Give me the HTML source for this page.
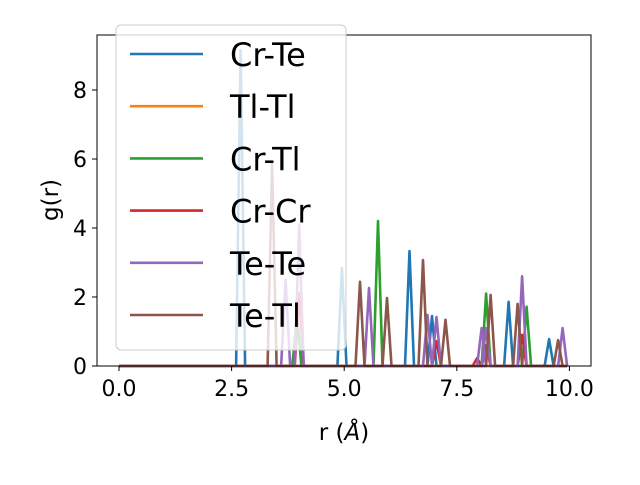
<!DOCTYPE html>
<html><head><meta charset="utf-8"><style>
html,body{margin:0;padding:0;background:#fff;}
svg text{font-family:"DejaVu Sans","Liberation Sans",sans-serif;}
</style></head><body>
<svg id="chart" width="640" height="480" xmlns="http://www.w3.org/2000/svg">
<rect width="640" height="480" fill="#fff"/>
<g id="series"></g>
<g id="axes"></g>
<g id="legend"></g>
</svg>
<script>
const seriesNames = ["Cr-Te","Tl-Tl","Cr-Tl","Cr-Cr","Te-Te","Te-Tl"];
const seriesColors = ["#1f77b4","#ff7f0e","#2ca02c","#d62728","#9467bd","#8c564b"];
const crTeR = [2.7, 4.95, 6.45, 6.95, 8.65, 9.55];
const crTeG = [9.15, 2.84, 3.33, 1.45, 1.86, 0.78];
const tlTlR = [];
const tlTlG = [];
const crTlR = [3.95, 5.75, 8.15, 9.05];
const crTlG = [1.5, 4.2, 2.1, 1.72];
const crCrR = [4.0, 7.05, 7.95, 8.15, 8.95];
const crCrG = [2.1, 0.72, 0.23, 0.6, 0.9];
const teTeR = [3.7, 4.0, 5.55, 6.85, 7.05, 8.05, 8.15, 8.95, 9.85];
const teTeG = [2.5, 4.1, 2.26, 1.48, 1.42, 1.1, 1.1, 2.6, 1.1];
const teTlR = [3.4, 5.35, 5.95, 6.75, 7.25, 8.25, 8.85, 9.75];
const teTlG = [5.85, 2.44, 1.97, 3.07, 1.34, 2.06, 1.8, 0.75];
const xTicks = [0, 2.5, 5, 7.5, 10];
const xTickLabels = ["0.0","2.5","5.0","7.5","10.0"];
const yTicks = [0, 2, 4, 6, 8];
const yTickLabels = ["0","2","4","6","8"];

const NS="http://www.w3.org/2000/svg";
const L=97,R=591,T=35,B=366;
const xS=r=>119+r*45.04;
const yS=g=>366-g*34.5;
function mk(tag,attrs,parent){const e=document.createElementNS(NS,tag);for(const k in attrs)e.setAttribute(k,attrs[k]);parent.appendChild(e);return e;}
const allR=[crTeR,tlTlR,crTlR,crCrR,teTeR,teTlR];
const allG=[crTeG,tlTlG,crTlG,crCrG,teTeG,teTlG];
const sg=document.getElementById('series');
for(let s=0;s<6;s++){
  const pts=[[0,0]];
  const idx=allR[s].map((r,i)=>i).sort((a,b)=>allR[s][a]-allR[s][b]);
  for(const i of idx){const r=allR[s][i],g=allG[s][i];pts.push([r-0.1,0],[r,g],[r+0.1,0]);}
  pts.push([9.95,0]);
  const p=mk('polyline',{points:pts.map(q=>xS(q[0]).toFixed(1)+','+yS(q[1]).toFixed(1)).join(' '),fill:'none',stroke:seriesColors[s],'stroke-width':2.6,'stroke-linejoin':'round'},sg);
  
  
}
const ax=document.getElementById('axes');
const fr=mk('rect',{x:L,y:T,width:R-L,height:B-T,fill:'none',stroke:'#000','stroke-width':1},ax);


xTicks.forEach((v,i)=>{
  mk('line',{x1:xS(v),x2:xS(v),y1:B,y2:B+5,stroke:'#000'},ax);
  const t=mk('text',{x:xS(v),y:B+30,'font-size':22,'text-anchor':'middle'},ax);
  t.textContent=xTickLabels[i];
  
  
});
yTicks.forEach((v,i)=>{
  mk('line',{x1:L-5,x2:L,y1:yS(v),y2:yS(v),stroke:'#000'},ax);
  const t=mk('text',{x:L-10,y:yS(v)+8,'font-size':22,'text-anchor':'end'},ax);
  t.textContent=yTickLabels[i];
  
  
});
const xl=mk('text',{x:344,y:440,'font-size':23,'text-anchor':'middle'},ax);
xl.innerHTML='r (<tspan font-style="italic">Å</tspan>)';


const yl=mk('text',{x:0,y:0,'font-size':23,'text-anchor':'middle',transform:'translate(58,200) rotate(-90)'},ax);
yl.textContent='g(r)';


const lg=document.getElementById('legend');
const lb=mk('rect',{x:116,y:25,width:230,height:325,rx:5,fill:'#fff','fill-opacity':0.8,stroke:'#ccc'},lg);


seriesNames.forEach((n,i)=>{
  const y=54+i*52.2;
  const g=mk('g',{},lg);
  
  
  mk('line',{x1:130,x2:203,y1:y,y2:y,stroke:seriesColors[i],'stroke-width':2.6},g);
  const t=mk('text',{x:230,y:y+12,'font-size':32},g);
  t.textContent=n;
});
</script>
</body></html>
